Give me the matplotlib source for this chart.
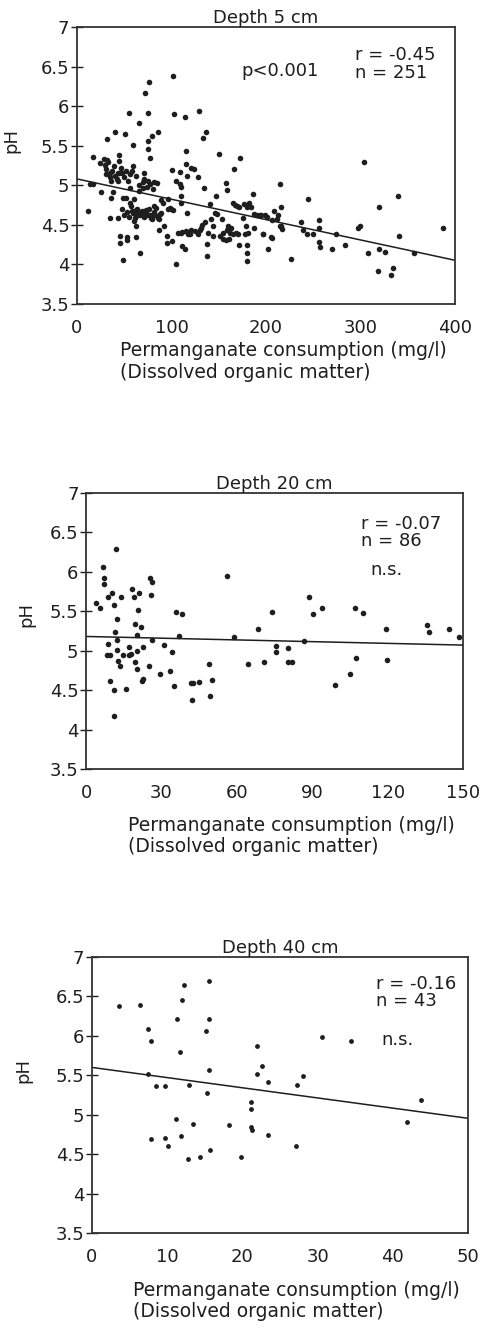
import numpy as np
import matplotlib
matplotlib.use("Agg")
import matplotlib.pyplot as plt

plt.rcParams["font.family"] = ["DejaVu Sans"]

# depth 5 cm: (permanganate consumption mg/l, pH)
pts5 = [
    (11.6, 4.67), (14, 5.02), (17, 5.01), (17, 5.36), (24, 5.28), (25, 4.92), (29, 5.33), (32, 5.32),
    (32, 5.59), (31, 5.20), (31, 5.14), (35, 5.16), (35, 5.10), (36, 5.05), (39, 5.24), (40, 5.67),
    (36, 4.84), (35, 4.58), (38, 4.92), (43, 5.05), (43, 5.16), (44, 5.38), (44, 5.31), (43, 4.59),
    (46, 4.36), (46, 4.27), (48, 5.16), (49, 4.84), (49, 4.05), (51, 5.65), (52, 5.18), (52, 4.84),
    (53, 4.34), (53, 4.31), (55, 5.91), (56, 4.97), (56, 5.14), (56, 4.78), (57, 4.74), (59, 5.51),
    (59, 5.24), (60, 4.82), (59, 4.65), (61, 4.59), (63, 4.69), (62, 4.48), (62, 4.34), (63, 4.61),
    (65, 4.65), (66, 4.93), (66, 5.79), (67, 4.15), (68, 4.65), (70, 4.97), (71, 5.08), (71, 5.16),
    (72, 6.16), (73, 4.69), (73, 4.65), (75, 5.91), (75, 5.56), (75, 5.46), (75, 5.05), (76, 6.30),
    (77, 5.35), (77, 4.63), (78, 4.59), (79, 5.62), (80, 4.95), (81, 5.04), (82, 4.74), (85, 5.03),
    (86, 5.67), (87, 4.57), (87, 4.44), (89, 4.81), (89, 4.65), (91, 4.78), (92, 4.48), (95, 4.27),
    (95, 4.36), (96, 4.70), (96, 4.82), (99, 4.70), (101, 5.19), (101, 4.29), (102, 6.38), (103, 5.90),
    (105, 4.00), (107, 4.40), (109, 5.17), (109, 5.01), (110, 4.87), (110, 4.77), (110, 4.40), (111, 4.23),
    (114, 4.20), (114, 5.86), (115, 5.43), (115, 5.27), (116, 5.12), (116, 4.65), (115, 4.42), (117, 4.40),
    (120, 4.38), (121, 5.22), (124, 5.20), (125, 4.42), (128, 5.11), (129, 5.94), (130, 4.44), (131, 4.46),
    (133, 5.60), (134, 4.96), (136, 4.53), (137, 5.67), (138, 4.26), (138, 4.11), (139, 4.40), (141, 4.76),
    (142, 4.57), (144, 4.36), (146, 4.65), (147, 4.87), (150, 5.39), (151, 4.36), (153, 4.57), (155, 4.32),
    (155, 4.40), (158, 5.03), (159, 4.94), (159, 4.44), (161, 4.32), (162, 4.40), (163, 4.46), (165, 4.78),
    (166, 5.20), (168, 4.40), (169, 4.74), (170, 4.38), (172, 4.25), (173, 5.34), (176, 4.59), (177, 4.76),
    (179, 4.49), (180, 4.25), (180, 4.15), (180, 4.04), (181, 4.40), (182, 4.77), (184, 4.72), (186, 4.89),
    (187, 4.46), (190, 4.63), (195, 4.63), (197, 4.38), (199, 4.62), (202, 4.20), (205, 4.34), (209, 4.67),
    (212, 4.57), (215, 5.01), (216, 4.73), (216, 4.49), (217, 4.45), (227, 4.07), (237, 4.54), (239, 4.44),
    (244, 4.83), (243, 4.38), (250, 4.38), (256, 4.56), (256, 4.46), (256, 4.28), (257, 4.22), (270, 4.20),
    (274, 4.39), (284, 4.24), (297, 4.46), (299, 4.48), (304, 5.29), (308, 4.15), (319, 3.91), (320, 4.72),
    (320, 4.20), (326, 4.16), (332, 3.86), (334, 3.95), (340, 4.86), (341, 4.36), (357, 4.15), (387, 4.46),
    (48, 4.70), (50, 4.62), (53, 4.66), (55, 4.60), (58, 4.68), (60, 4.55), (64, 4.70), (67, 4.62),
    (69, 4.67), (71, 4.60), (74, 4.63), (76, 4.70), (79, 4.57), (81, 4.66), (83, 4.62),
    (30, 5.25), (33, 5.30), (37, 5.18), (40, 5.12), (42, 5.08), (45, 5.15), (47, 5.22), (50, 5.10),
    (54, 5.05), (58, 5.18), (62, 5.12), (66, 5.00), (70, 5.04), (74, 4.98), (77, 5.02),
    (84, 4.71), (88, 4.64), (98, 4.71), (102, 4.69), (86, 4.58), (111, 4.41), (118, 4.39), (121, 4.43),
    (128, 4.39), (132, 4.50), (144, 4.48), (148, 4.64), (158, 4.31), (160, 4.48), (105, 5.05), (110, 4.98),
    (167, 4.75), (171, 4.73), (180, 4.73), (187, 4.64), (194, 4.62), (201, 4.60), (206, 4.56), (213, 4.62),
    (165, 4.39), (178, 4.39), (197, 4.39), (206, 4.33), (215, 4.48),
]

# depth 20 cm
pts20 = [
    (4.0, 5.61), (5.6, 5.54), (6.6, 6.06), (7.2, 5.92), (7.2, 5.85), (8.6, 5.68), (8.5, 5.09), (8.2, 4.95),
    (9.6, 4.95), (9.3, 4.62), (10.4, 5.73), (11.2, 5.58), (10.9, 4.50), (10.9, 4.17), (11.9, 6.29), (12.2, 5.40),
    (11.5, 5.24), (12.2, 5.13), (12.2, 5.01), (12.5, 4.87), (13.5, 4.81), (13.8, 5.68), (14.6, 4.95), (15.9, 4.51),
    (16.9, 5.05), (16.9, 4.95), (17.8, 4.96), (18.2, 5.78), (18.9, 5.68), (19.5, 5.34), (19.5, 4.86), (20.2, 5.20),
    (20.2, 5.00), (20.4, 4.77), (20.7, 5.52), (21.2, 5.73), (21.8, 5.30), (22.2, 4.62), (22.8, 4.64), (22.8, 5.05),
    (25.2, 4.81), (25.5, 5.92), (26.1, 5.87), (25.8, 5.71), (26.1, 5.14), (29.5, 4.71), (31.1, 5.07), (33.2, 4.74),
    (34.1, 4.98), (34.8, 4.55), (35.8, 5.49), (38.2, 5.46), (36.8, 5.19), (41.7, 4.59), (42.5, 4.59), (42.1, 4.38),
    (45.0, 4.60), (48.7, 4.83), (49.4, 4.42), (50.0, 4.63), (56.0, 5.95), (58.9, 5.17), (64.3, 4.83), (68.2, 5.28),
    (70.6, 4.86), (73.9, 5.49), (75.4, 5.06), (75.7, 4.98), (80.3, 5.03), (80.2, 4.86), (81.9, 4.85), (86.8, 5.12),
    (88.5, 5.68), (90.3, 5.46), (93.9, 5.54), (99.2, 4.57), (104.9, 4.71), (107.1, 5.54), (107.5, 4.91), (110.2, 5.48),
    (119.1, 5.28), (119.5, 4.88), (135.7, 5.33), (136.3, 5.24), (144.3, 5.28), (148.3, 5.17),
]

# depth 40 cm
pts40 = [
    (3.6, 6.38), (6.4, 6.39), (7.5, 6.09), (7.9, 5.94), (7.5, 5.52), (7.9, 4.69), (8.5, 5.36), (9.7, 5.36),
    (9.7, 4.70), (10.1, 4.60), (11.2, 4.95), (11.3, 6.22), (11.7, 5.79), (11.8, 4.73), (12.0, 6.46), (12.2, 6.64),
    (12.9, 5.38), (12.8, 4.44), (13.5, 4.88), (14.3, 4.46), (15.2, 6.06), (15.3, 5.28), (15.6, 6.70), (15.6, 6.21),
    (15.6, 5.57), (15.7, 4.55), (18.2, 4.87), (19.8, 4.46), (21.1, 5.16), (21.1, 5.07), (21.1, 4.84), (21.3, 4.81),
    (22.0, 5.87), (22.0, 5.52), (22.6, 5.62), (23.4, 5.41), (23.4, 4.74), (27.2, 5.38), (27.1, 4.60), (28.1, 5.49),
    (30.6, 5.98), (34.5, 5.94), (41.9, 4.91), (43.8, 5.19),
]

# regression lines: (intercept, slope)
fit5 = (5.08, -0.00257)
fit20 = (5.18, -0.00073)
fit40 = (5.60, -0.0129)

titles = ["Depth 5 cm", "Depth 20 cm", "Depth 40 cm"]
xmax = [400, 150, 50]
xticks = [[0, 100, 200, 300, 400], [0, 30, 60, 90, 120, 150], [0, 10, 20, 30, 40, 50]]
yticks = [3.5, 4, 4.5, 5, 5.5, 6, 6.5, 7]
ytick_labels = ["3.5", "4", "4.5", "5", "5.5", "6", "6.5", "7"]
stats = [["r = -0.45", "n = 251"], ["r = -0.07", "n = 86"], ["r = -0.16", "n = 43"]]

ink = "#1e1e1e"
fig = plt.figure(figsize=(4.84, 13.29), dpi=100)

boxes = [
    [0.159, 0.7713, 0.781, 0.2084],
    [0.178, 0.4214, 0.779, 0.2077],
    [0.190, 0.0722, 0.777, 0.2077],
]
label_pos = [(0.114, -0.135), (0.111, -0.170), (0.109, -0.174)]
ylab_pos = [(-0.150, 0.59), (-0.135, 0.558), (-0.158, 0.59)]
stat_pos = [(0.735, 0.93), (0.73, 0.92), (0.755, 0.935)]
ns_pos = [None, (0.755, 0.72), (0.77, 0.70)]
sizes = [16, 16, 12]

for i, (pts, fit) in enumerate(zip([pts5, pts20, pts40], [fit5, fit20, fit40])):
    ax = fig.add_axes(boxes[i])
    xs, ys = np.array(pts).T
    ax.scatter(xs, ys, s=sizes[i], color=ink, linewidths=0, zorder=3)
    lx = np.array([0, xmax[i]])
    ax.plot(lx, fit[0] + fit[1] * lx, color=ink, lw=1.1)

    ax.set_xlim(0, xmax[i])
    ax.set_ylim(3.5, 7)
    ax.set_xticks(xticks[i])
    ax.set_yticks(yticks)
    ax.set_yticklabels(ytick_labels)
    ax.tick_params(axis="y", direction="inout", length=9, width=1, pad=1, labelsize=13, colors=ink)
    ax.tick_params(axis="x", length=0, pad=11, labelsize=13, colors=ink)
    for sp in ax.spines.values():
        sp.set_linewidth(1.3)
        sp.set_color("#333333")

    ax.set_title(titles[i], fontsize=13, pad=2, color=ink)
    ax.set_ylabel("pH", fontsize=13, color=ink)
    ax.yaxis.set_label_coords(*ylab_pos[i])
    ax.text(label_pos[i][0], label_pos[i][1],
            "Permanganate consumption (mg/l)\n(Dissolved organic matter)",
            transform=ax.transAxes, ha="left", va="top", fontsize=13.5,
            linespacing=1.15, color=ink)

    ax.text(stat_pos[i][0], stat_pos[i][1], "\n".join(stats[i]), transform=ax.transAxes,
            ha="left", va="top", fontsize=13, linespacing=0.95, color=ink)
    if i == 0:
        ax.text(0.435, 0.84, "p<0.001", transform=ax.transAxes, ha="left", va="center",
                fontsize=13, color=ink)
    else:
        ax.text(ns_pos[i][0], ns_pos[i][1], "n.s.", transform=ax.transAxes, ha="left",
                va="center", fontsize=13, color=ink)

fig.savefig("out.png", dpi=100)
